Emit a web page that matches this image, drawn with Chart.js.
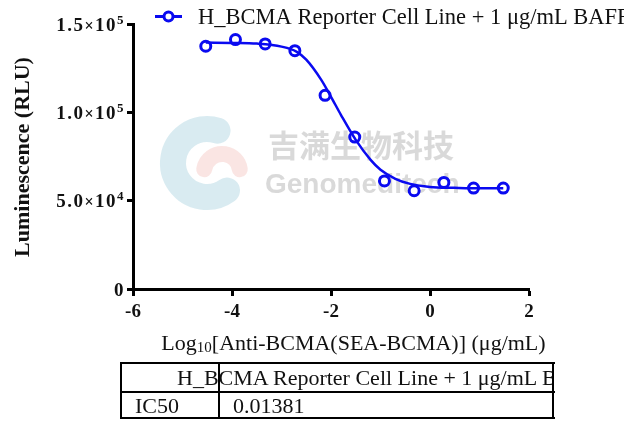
<!DOCTYPE html>
<html>
<head>
<meta charset="utf-8">
<script src="https://cdn.jsdelivr.net/npm/chart.js@4.4.0/dist/chart.umd.min.js"></script>
<style>
  html, body { margin: 0; padding: 0; background: #fff; }
  #wrap { position: relative; width: 624px; height: 423px; overflow: hidden; }
  canvas { position: absolute; left: 0; top: 0; }
  .ln { position: absolute; background: #000; }
  .txt {
    position: absolute; white-space: nowrap;
    font-family: "Liberation Serif", "Times New Roman", serif;
    font-size: 22px; line-height: 22px; color: #111;
  }
  #clip { position: absolute; left: 121px; top: 363px; width: 432px; height: 55px; overflow: hidden; }
</style>
</head>
<body>
<div id="wrap">
  <canvas id="ec50Chart" width="624" height="423"></canvas>
  <!-- IC50 table under the chart -->
  <div id="clip">
    <span class="txt" style="left:56px; top:3.6px;">H_BCMA Reporter Cell Line + 1 μg/mL BAFF</span>
  </div>
  <span class="txt" style="left:135px; top:394.6px;">IC50</span>
  <span class="txt" style="left:233px; top:394.6px;">0.01381</span>
  <div class="ln" style="left:121px; top:362px; width:434px; height:2px;"></div>
  <div class="ln" style="left:121px; top:391px; width:434px; height:2px;"></div>
  <div class="ln" style="left:121px; top:417px; width:434px; height:2px;"></div>
  <div class="ln" style="left:120px; top:362px; width:2px; height:57px;"></div>
  <div class="ln" style="left:218px; top:362px; width:2px; height:57px;"></div>
  <div class="ln" style="left:552px; top:362px; width:2px; height:57px;"></div>
</div>
<script>
// measured points: log10 concentration (ug/mL) vs luminescence (RLU)
const logConc = [-4.53, -3.93, -3.33, -2.73, -2.12, -1.52, -0.92, -0.32, 0.28, 0.88, 1.48];
const rlu = [137400, 141200, 138700, 134900, 109600, 86000, 61200, 55600, 60300, 57100, 57100];

// fitted curve
const fitX = [-4.53, -4.0, -3.5, -3.0, -2.7, -2.5, -2.2, -2.0, -1.8, -1.5, -1.2, -1.0, -0.7, -0.4, 0.0, 0.5, 1.0, 1.48];
const fitY = [139500, 139300, 138900, 137200, 134400, 129800, 118500, 108800, 98600, 84400, 73100, 67500, 62400, 59500, 57800, 57300, 57000, 57000];

const seriesLabel = 'H_BCMA Reporter Cell Line + 1 μg/mL BAFF';
const yTickValues = [0, 50000, 100000, 150000];
const yTickMantissa = ['0', '5.0', '1.0', '1.5'];
const yTickExponent = ['', '4', '5', '5'];

const blue = '#0a0af0';
const serif = '"Liberation Serif", "Times New Roman", serif';

// watermark, y tick labels, axis titles and legend drawn on the canvas
const extrasPlugin = {
    id: 'extras',
    beforeDatasetsDraw(chart) {
        const ctx = chart.ctx;
        ctx.save();
        // faint logo swirl
        ctx.globalAlpha = 0.33;
        ctx.lineCap = 'round';
        ctx.strokeStyle = '#8cc3d6';
        ctx.lineWidth = 26;
        ctx.beginPath();
        ctx.arc(207, 163, 34, Math.PI * 0.3, Math.PI * 1.6);
        ctx.stroke();
        ctx.strokeStyle = '#f0b0aa';
        ctx.lineWidth = 16;
        ctx.beginPath();
        ctx.arc(222, 172, 18, Math.PI * 1.05, Math.PI * 1.95);
        ctx.stroke();
        ctx.globalAlpha = 0.38;
        ctx.fillStyle = '#9a9a9a';
        ctx.font = 'bold 31px "Noto Sans CJK SC", sans-serif';
        ctx.textBaseline = 'alphabetic';
        ctx.fillText('吉满生物科技', 268, 157);
        ctx.font = 'bold 28px "Liberation Sans", Arial, sans-serif';
        ctx.fillText('Genomeditech', 265, 193);
        ctx.restore();
    },
    afterDraw(chart) {
        const ctx = chart.ctx;
        const yScale = chart.scales.y;
        ctx.save();
        ctx.fillStyle = '#111';

        // y tick labels like 1.5×10^5
        ctx.textBaseline = 'alphabetic';
        ctx.textAlign = 'left';
        ctx.letterSpacing = '1.5px';
        yTickValues.forEach((v, i) => {
            const py = yScale.getPixelForValue(v);
            const pieces = yTickExponent[i]
                ? [[yTickMantissa[i], 'bold 19px', 0], ['×', 'bold 16px', 0], ['10', 'bold 19px', 0], [yTickExponent[i], 'bold 13px', -7]]
                : [[yTickMantissa[i], 'bold 19px', 0]];
            let w = 0;
            pieces.forEach(p => { ctx.font = p[1] + ' ' + serif; w += ctx.measureText(p[0]).width; });
            let x = 125 - w;
            pieces.forEach(p => {
                ctx.font = p[1] + ' ' + serif;
                ctx.fillText(p[0], x, py + 6.5 + p[2]);
                x += ctx.measureText(p[0]).width;
            });
        });
        ctx.letterSpacing = '0px';

        // y axis title
        ctx.font = 'bold 22px ' + serif;
        ctx.textAlign = 'center';
        ctx.textBaseline = 'middle';
        ctx.translate(23, 157);
        ctx.rotate(-Math.PI / 2);
        ctx.fillText('Luminescence (RLU)', 0, 0);
        ctx.setTransform(1, 0, 0, 1, 0, 0);

        // x axis title with subscript 10
        ctx.textAlign = 'left';
        ctx.textBaseline = 'alphabetic';
        const parts = [['Log', 22, 0], ['10', 15, 2], ['[Anti-BCMA(SEA-BCMA)] (μg/mL)', 22, 0]];
        let total = 0;
        parts.forEach(p => { ctx.font = p[1] + 'px ' + serif; total += ctx.measureText(p[0]).width; });
        let x = 353.5 - total / 2;
        parts.forEach(p => {
            ctx.font = p[1] + 'px ' + serif;
            ctx.fillText(p[0], x, 350 + p[2]);
            x += ctx.measureText(p[0]).width;
        });

        // legend
        ctx.strokeStyle = blue;
        ctx.lineWidth = 3;
        ctx.beginPath();
        ctx.moveTo(155, 16.5);
        ctx.lineTo(182, 16.5);
        ctx.stroke();
        ctx.fillStyle = '#fff';
        ctx.beginPath();
        ctx.arc(168.5, 16.5, 4.5, 0, Math.PI * 2);
        ctx.fill();
        ctx.stroke();
        ctx.fillStyle = '#111';
        ctx.font = '22.5px ' + serif;
        ctx.fillText(seriesLabel, 198, 24);
        ctx.restore();
    }
};

const ctx = document.getElementById('ec50Chart').getContext('2d');
new Chart(ctx, {
    type: 'scatter',
    data: {
        datasets: [
            {
                label: 'fit',
                data: fitX.map((v, i) => ({ x: v, y: fitY[i] })),
                showLine: true,
                borderColor: blue,
                borderWidth: 2.5,
                pointRadius: 0,
                tension: 0.4,
                cubicInterpolationMode: 'monotone',
                fill: false
            },
            {
                label: seriesLabel,
                data: logConc.map((v, i) => ({ x: v, y: rlu[i] })),
                showLine: false,
                pointRadius: 5,
                pointBorderWidth: 3,
                pointBackgroundColor: '#fff',
                pointBorderColor: blue
            }
        ]
    },
    options: {
        responsive: false,
        animation: false,
        layout: { padding: { top: 24, right: 95, left: 0, bottom: 0 } },
        plugins: { legend: { display: false }, tooltip: { enabled: false } },
        scales: {
            x: {
                type: 'linear',
                min: -6,
                max: 2,
                afterFit: s => { s.height = 423 - 289; },
                border: { display: true, color: '#000', width: 3 },
                grid: { display: true, drawOnChartArea: false, drawTicks: true, tickLength: 7, tickWidth: 3, color: '#000' },
                ticks: {
                    stepSize: 2,
                    color: '#111',
                    padding: 5,
                    font: { family: serif, size: 19, weight: 'bold' },
                    callback: v => String(v)
                }
            },
            y: {
                min: 0,
                max: 150000,
                afterFit: s => { s.width = 133; },
                border: { display: true, color: '#000', width: 3 },
                grid: { display: true, drawOnChartArea: false, drawTicks: true, tickLength: 6, tickWidth: 3, color: '#000' },
                ticks: {
                    stepSize: 50000,
                    color: '#111',
                    callback: () => ''
                }
            }
        }
    },
    plugins: [extrasPlugin]
});
</script>
</body>
</html>
